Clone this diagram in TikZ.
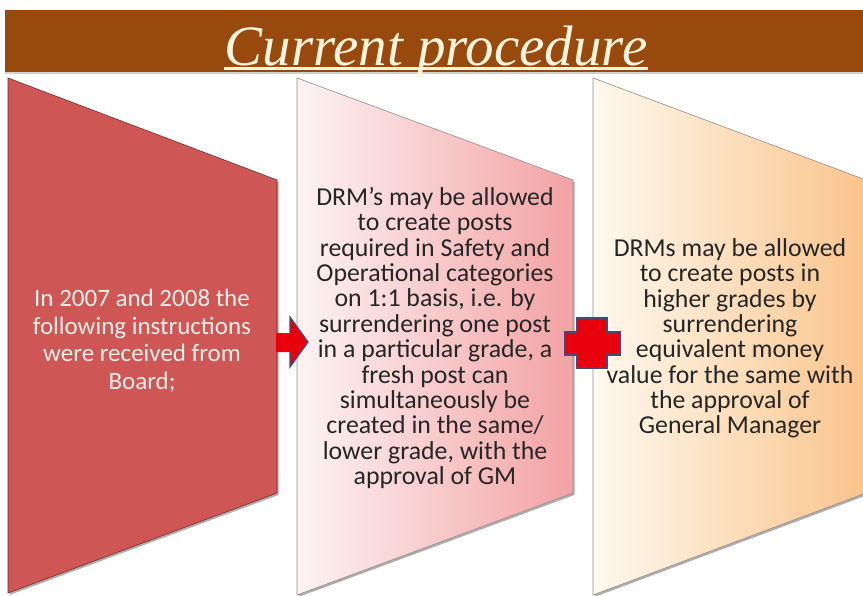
\documentclass[tikz,border=0pt]{standalone}
\usepackage{fontspec}
\setmainfont{Carlito}
\newfontfamily\headfont{Liberation Serif}
\usetikzlibrary{shadows}

\definecolor{barbrown}{RGB}{152,73,13}
\definecolor{headcream}{RGB}{255,244,222}
\definecolor{stepred}{RGB}{206,86,84}
\definecolor{stepredline}{RGB}{120,45,40}
\definecolor{pinkleft}{RGB}{253,243,243}
\definecolor{pinkright}{RGB}{243,162,164}
\definecolor{peachleft}{RGB}{254,249,238}
\definecolor{peachright}{RGB}{250,196,140}
\definecolor{panelline}{RGB}{150,140,140}
\definecolor{signred}{RGB}{232,0,12}
\definecolor{signedge}{RGB}{70,74,120}
\definecolor{bodytext}{RGB}{38,38,38}
\definecolor{lighttext}{RGB}{252,238,234}

\begin{document}
\begin{tikzpicture}[x=1pt,y=-1pt,
  panelshadow/.style={drop shadow={shadow xshift=1.5pt,shadow yshift=-2pt,opacity=0.45,fill=black!70}},
  paneltext/.style={align=center,inner sep=0pt},
  sign/.style={fill=signred,draw=signedge,line width=1.2pt,line join=miter}]

\useasboundingbox (0,0) rectangle (863,595);
\fill[white] (0,0) rectangle (863,595);

% heading band
\fill[barbrown,drop shadow={shadow xshift=0pt,shadow yshift=-2pt,opacity=0.35}] (5,10) rectangle (870,72);
\node[text=headcream,font=\headfont\itshape\fontsize{57}{60}\selectfont,
      anchor=base,inner sep=0pt] (title) at (436,65) {Current procedure};
\draw[headcream,line width=2.5pt] ([yshift=-3.5pt]title.base west) -- ([yshift=-3.5pt]title.base east);

% three tapered panels
\path[panelshadow,fill=stepred,draw=stepredline,line width=0.6pt]
  (8,78) -- (277,180) -- (277,493) -- (8,593) -- cycle;
\path[panelshadow,left color=pinkleft,right color=pinkright,draw=panelline,line width=0.6pt]
  (297,78) -- (573,180) -- (573,493) -- (297,595) -- cycle;
\path[panelshadow,left color=peachleft,right color=peachright,draw=panelline,line width=0.6pt]
  (593,78) -- (866,180) -- (866,493) -- (593,595) -- cycle;

% panel texts
\node[paneltext,text=lighttext,font=\fontsize{25}{27.5}\selectfont] (t1) at (142,341)
  {In 2007 and 2008 the\\following instructions\\were received from\\Board;};
\node[paneltext,text=bodytext,font=\fontsize{25.8}{25.4}\selectfont] (t2) at (435,338)
  {DRM’s may be allowed\\to create posts\\required in Safety and\\Operational categories\\on 1:1 basis, i.e. by\\surrendering one post\\in a particular grade, a\\fresh post can\\simultaneously be\\created in the same/\\lower grade, with the\\approval of GM};
\node[paneltext,text=bodytext,font=\fontsize{25.8}{25.3}\selectfont] (t3) at (730,338.5)
  {DRMs may be allowed\\to create posts in\\higher grades by\\surrendering\\equivalent money\\value for the same with\\the approval of\\General Manager};

% arrow between the first two panels
\fill[signred] (276,333) -- (290,333) -- (290,317) -- (308,342) -- (290,367) -- (290,352) -- (276,352) -- cycle;
\draw[signedge,line width=1.2pt] (290,333) -- (290,317) -- (308,342) -- (290,367) -- (290,352);

% plus between the last two panels
\path[sign] (577,318) -- (607,318) -- (607,332) -- (620,332) -- (620,355) -- (607,355)
  -- (607,368) -- (577,368) -- (577,355) -- (565,355) -- (565,332) -- (577,332) -- cycle;
\end{tikzpicture}
\end{document}
